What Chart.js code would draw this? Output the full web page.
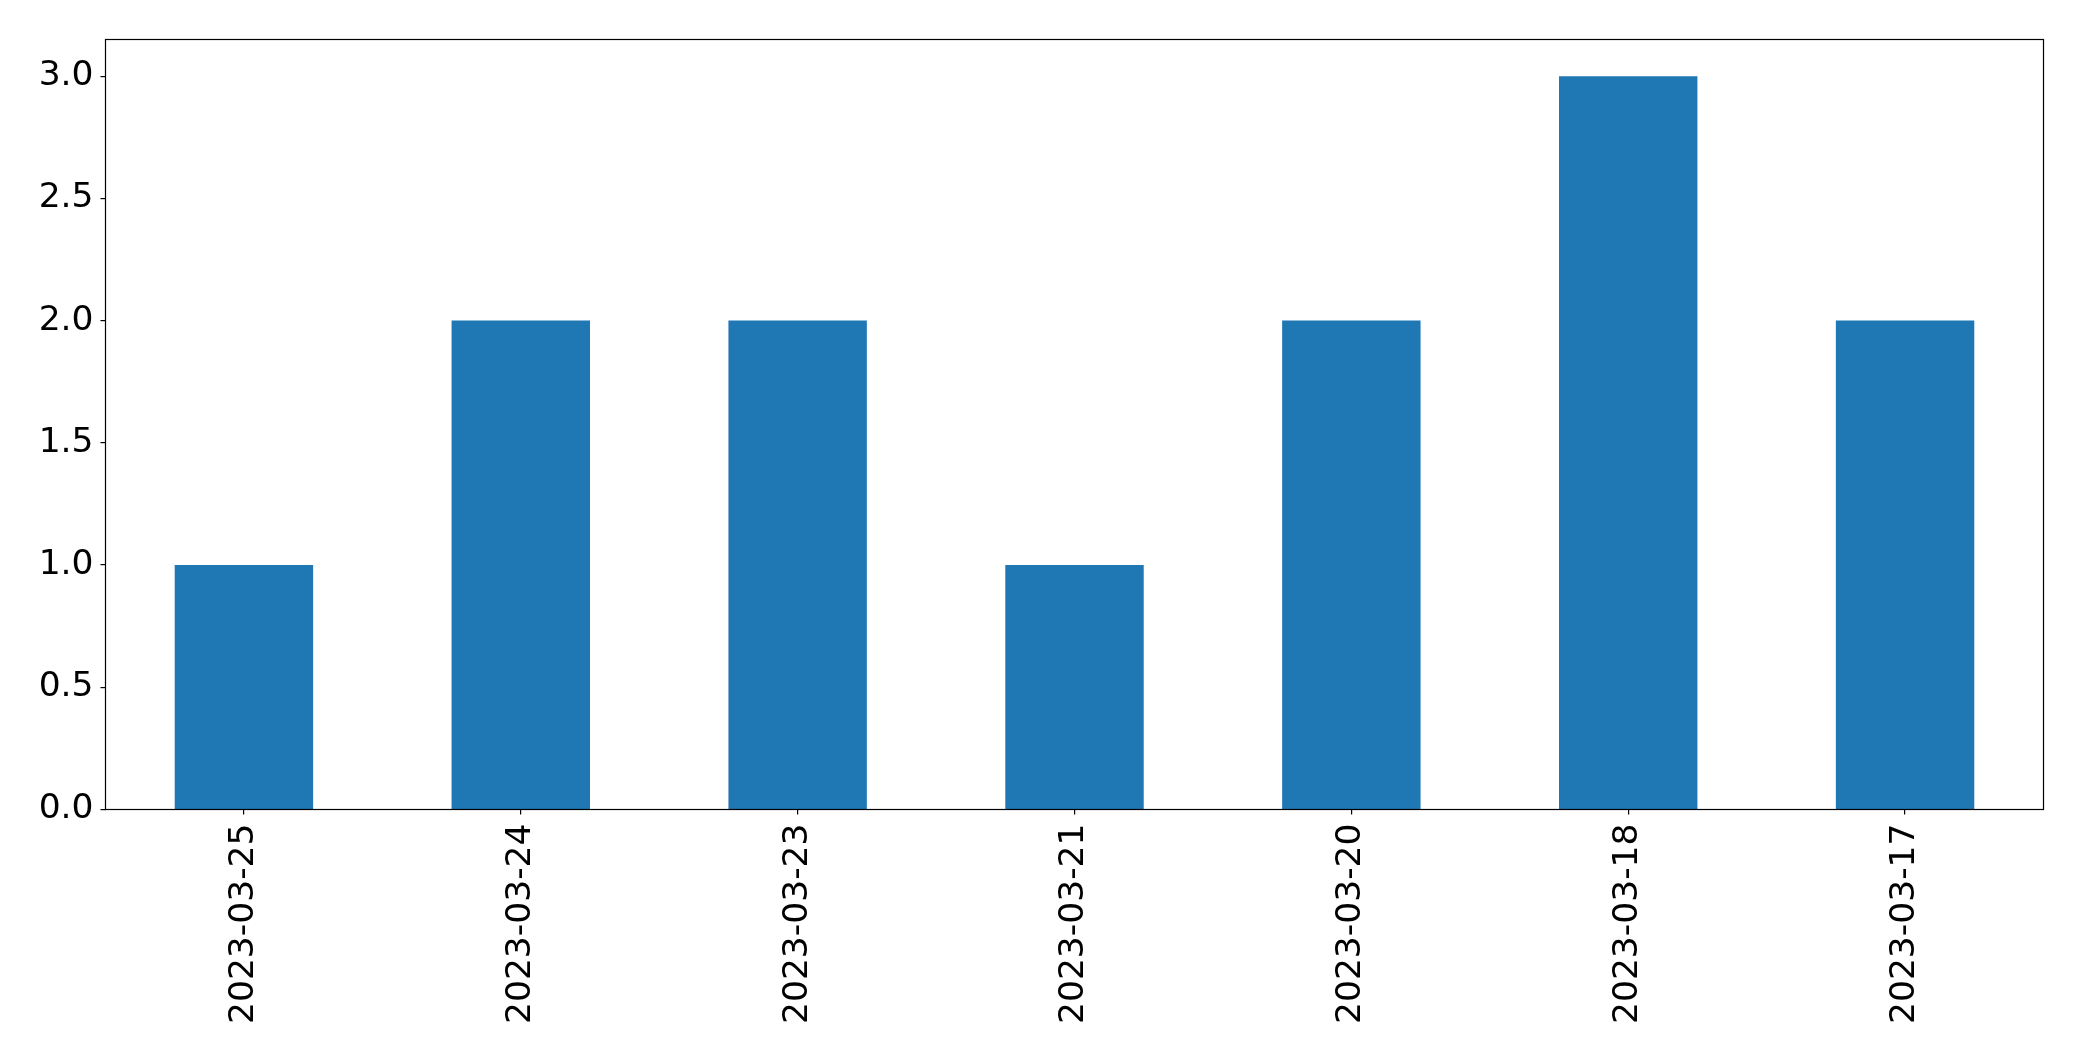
<!DOCTYPE html>
<html>
<head>
<meta charset="utf-8">
<script src="https://cdn.jsdelivr.net/npm/chart.js@4/dist/chart.umd.min.js"></script>
<style>
  html, body { margin: 0; padding: 0; background: #ffffff; }
  #wrap { width: 2082px; height: 1061px; }
</style>
</head>
<body>
<div id="wrap"><canvas id="c" width="2082" height="1061"></canvas></div>
<script>
const categories = ['2023-03-25', '2023-03-24', '2023-03-23', '2023-03-21', '2023-03-20', '2023-03-18', '2023-03-17'];
const counts = [1, 2, 2, 1, 2, 3, 2];
const yTickValues = [0, 0.5, 1.0, 1.5, 2.0, 2.5, 3.0];

const frame = {
  id: 'frame',
  afterDatasetsDraw(chart) {
    const a = chart.chartArea;
    const ctx = chart.ctx;
    ctx.save();
    ctx.strokeStyle = '#000';
    ctx.lineWidth = 1.2;
    ctx.strokeRect(a.left, a.top, a.right - a.left, a.bottom - a.top);
    ctx.restore();
  }
};

new Chart(document.getElementById('c'), {
  type: 'bar',
  data: {
    labels: categories,
    datasets: [{
      data: counts,
      backgroundColor: '#1f77b4',
      borderWidth: 0,
      categoryPercentage: 1.0,
      barPercentage: 0.5
    }]
  },
  options: {
    responsive: false,
    animation: false,
    devicePixelRatio: 1,
    layout: { padding: { left: 0, top: 39.5, right: 38.5, bottom: 0 } },
    plugins: { legend: { display: false }, tooltip: { enabled: false } },
    scales: {
      x: {
        afterFit(s) { s.height = 251.5; },
        grid: { display: true, offset: false, drawOnChartArea: false, tickLength: 5, color: '#000', lineWidth: 1.2 },
        border: { display: false },
        ticks: {
          color: '#000',
          font: { family: 'DejaVu Sans', size: 34.5 },
          minRotation: 90,
          maxRotation: 90,
          padding: 9,
          autoSkip: false
        }
      },
      y: {
        min: 0,
        max: 3.15,
        afterFit(s) { s.width = 105.5; },
        afterBuildTicks(s) { s.ticks = yTickValues.map(v => ({ value: v })); },
        grid: { display: true, drawOnChartArea: false, tickLength: 5, color: '#000', lineWidth: 1.2 },
        border: { display: false },
        ticks: {
          color: '#000',
          font: { family: 'DejaVu Sans', size: 34.5 },
          padding: 7,
          callback: v => Number(v).toFixed(1)
        }
      }
    }
  },
  plugins: [frame]
});
</script>
</body>
</html>
